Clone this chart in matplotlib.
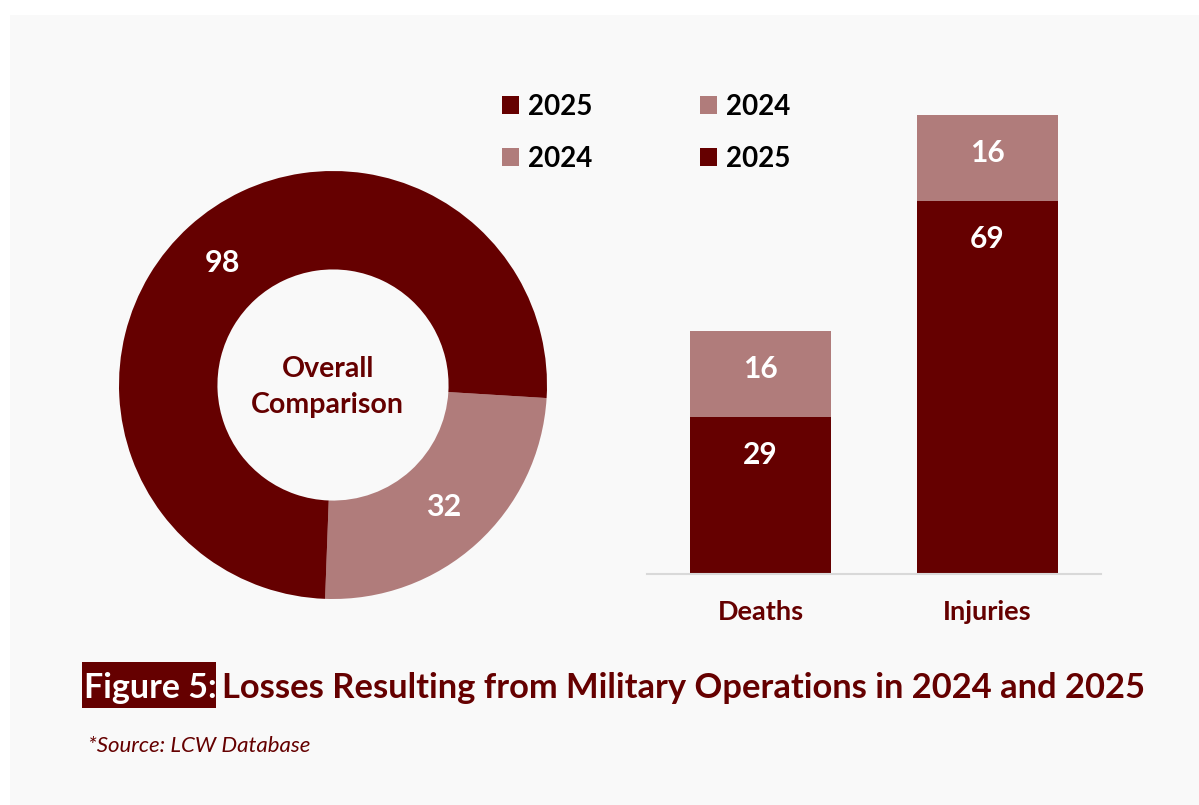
import matplotlib
matplotlib.use("Agg")
import matplotlib.pyplot as plt
from matplotlib.patches import Patch, Rectangle
import numpy as np

plt.rcParams['font.family'] = ['Lato', 'DejaVu Sans']

# ---- data ----
donut_labels = ["2024", "2025"]
donut_values = [32, 98]
categories = ["Deaths", "Injuries"]
values_2025 = [29, 69]
values_2024 = [16, 16]
center_text = "Overall\nComparison"
title_lead = "Figure 5:"
title_rest = "Losses Resulting from Military Operations in 2024 and 2025"
source_text = "*Source: LCW Database"

DARK = "#650000"
LIGHT = "#B07C7B"
PANEL = "#F9F9F9"

W, H = 1199, 805
fig = plt.figure(figsize=(W / 100, H / 100), dpi=100)
fig.patch.set_facecolor("white")


def fx(px):
    return px / W


def fy(py):
    return (H - py) / H


# light panel behind everything
fig.patches.append(Rectangle((fx(10), 0), 1 - fx(10), fy(15), transform=fig.transFigure,
                             facecolor=PANEL, edgecolor="none", zorder=-5))

# ---- donut ----
cx, cy, r = 333, 385, 214
ring = 0.46
ax_d = fig.add_axes([fx(cx - r), fy(cy + r), 2 * r / W, 2 * r / H])
ax_d.set_facecolor("none")
wedges, _ = ax_d.pie(donut_values, colors=[LIGHT, DARK], startangle=-3.5, counterclock=False,
                     radius=1.0, wedgeprops=dict(width=ring, edgecolor="none"))
for w, v in zip(wedges, donut_values):
    ang = np.deg2rad((w.theta1 + w.theta2) / 2)
    rr = 1 - ring / 2
    ax_d.text(rr * np.cos(ang), rr * np.sin(ang), str(v), ha="center", va="center",
              color="white", fontsize=22, fontweight="bold")
ax_d.text(-0.025, -0.01, center_text, ha="center", va="center", color=DARK,
          fontsize=20.5, fontweight="bold", linespacing=1.5)
ax_d.set_xlim(-1, 1)
ax_d.set_ylim(-1, 1)
ax_d.set_aspect("equal")
ax_d.axis("off")

# ---- stacked bars ----
ax_b = fig.add_axes([fx(647), fy(574), (1101 - 647) / W, (574 - 115) / H])
ax_b.set_facecolor("none")
x = np.arange(len(categories))
bw = 0.62
ax_b.bar(x, values_2025, width=bw, color=DARK, label="2025")
ax_b.bar(x, values_2024, width=bw, bottom=values_2025, color=LIGHT, label="2024")
for xi, v25, v24 in zip(x, values_2025, values_2024):
    for top, v in ((v25, v25), (v25 + v24, v24)):
        ax_b.annotate(str(v), xy=(xi, top), xytext=(0, -27), textcoords="offset points",
                      ha="center", va="center", color="white", fontsize=21.5, fontweight="bold")
ax_b.set_xlim(-0.5, 1.5)
ax_b.set_ylim(0, values_2025[1] + values_2024[1])
ax_b.set_xticks(x)
ax_b.set_xticklabels(categories, color=DARK, fontsize=19.5, fontweight="bold")
ax_b.tick_params(axis="x", length=0, pad=18.5)
ax_b.set_yticks([])
for s in ("top", "right", "left"):
    ax_b.spines[s].set_visible(False)
ax_b.spines["bottom"].set_color("#D9D9D9")
ax_b.spines["bottom"].set_linewidth(1.5)

# ---- legend ----
handles = [Patch(facecolor=DARK), Patch(facecolor=LIGHT), Patch(facecolor=LIGHT), Patch(facecolor=DARK)]
labels = ["2025", "2024", "2024", "2025"]
leg = fig.legend(handles, labels, ncol=2, loc="center left",
                 bbox_to_anchor=(fx(477), fy(133)), frameon=False,
                 prop=dict(size=20, weight="bold"), handlelength=0.62, handleheight=0.62,
                 handletextpad=0.3, columnspacing=3.9, labelspacing=0.95)
for t in leg.get_texts():
    t.set_color("black")

# ---- title ----
fig.patches.append(Rectangle((fx(82), fy(708)), fx(216) - fx(82), fy(662) - fy(708),
                             transform=fig.transFigure, facecolor=DARK, edgecolor="none", zorder=1))
fig.text(fx(84), fy(698), title_lead, color="white", fontsize=24.5, fontweight="bold",
         ha="left", va="baseline", zorder=2)
fig.text(fx(222), fy(698), title_rest, color=DARK, fontsize=24.8, fontweight="bold",
         ha="left", va="baseline", zorder=2)

fig.text(fx(88), fy(746), source_text, color=DARK, fontsize=16, style="italic",
         ha="left", va="center")

fig.savefig("out.png", dpi=100, facecolor=fig.get_facecolor())
